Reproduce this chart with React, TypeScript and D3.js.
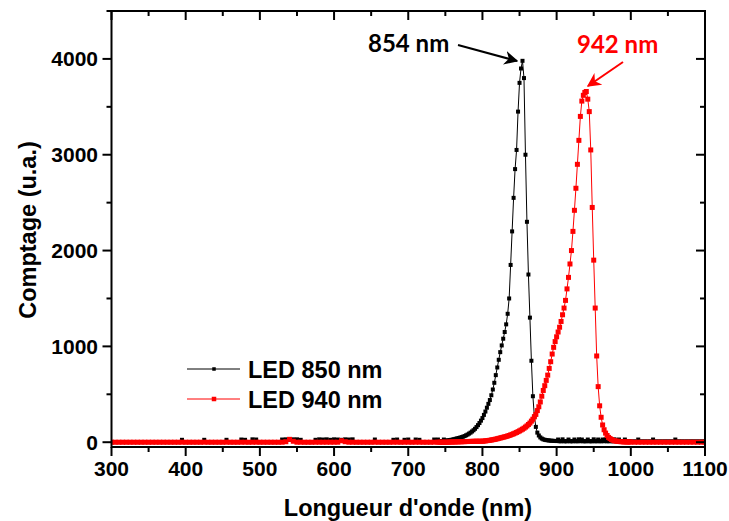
import React from 'react';
import * as d3 from 'd3';

// Sampling grids (nm)
const gridLow = d3.range(300, 740, 5);
const gridPeak = d3.range(740, 1001, 2);
const gridHigh = d3.range(1005, 1101, 5);

// LED 850 nm counts
const led850Low = [
  0,0,0,0,0,0,0,0,0,0,
  0,0,0,0,0,0,0,0,0,25,
  0,0,0,0,0,25,0,0,0,0,
  0,25,0,0,0,28,25,0,30,28,
  0,0,0,0,0,0,28,30,25,30,
  30,25,0,0,0,25,30,28,30,25,
  30,28,25,30,28,30,0,0,0,0,
  0,28,0,0,0,0,25,28,0,25,
  28,0,28,25,0,0,0,28,
];
const led850Peak = [
  28,10,10,12,28,15,18,20,22,25,
  28,32,36,40,44,48,53,58,64,72,
  80,90,100,112,125,140,158,178,200,225,
  252,285,320,360,400,440,490,550,620,700,
  780,860,940,1010,1080,1150,1230,1340,1500,1850,
  2200,2550,2850,3050,3450,3750,3900,3980,3800,3000,
  2300,1750,1300,850,480,270,160,100,70,50,
  38,30,25,22,20,18,16,15,14,13,
  12,28,10,10,30,10,10,10,28,10,
  10,10,28,10,10,30,10,28,10,10,
  10,28,10,10,10,30,10,10,28,10,
  10,28,10,30,10,10,28,10,10,30,
  10,10,28,10,10,10,28,10,10,10,
  10,
];
const led850High = [10,28,10,10,10,28,10,10,10,10,10,28,10,10,10,10,10,10,10,10];

// LED 940 nm counts
const led940Low = [
  0,0,0,0,0,0,0,0,0,0,
  0,0,0,0,0,0,0,0,0,0,
  0,0,0,0,0,0,0,0,0,0,
  0,0,0,0,0,0,0,0,0,0,
  0,0,0,0,0,0,0,5,30,10,
  0,0,0,0,0,0,0,0,0,0,
  0,0,15,5,0,0,0,0,0,0,
  0,0,0,0,0,0,0,0,0,0,
  0,0,0,0,0,0,0,0,
];
const led940Peak = [
  0,0,0,0,0,0,0,0,2,2,
  2,3,3,4,4,5,5,6,6,7,
  7,8,8,9,9,10,10,10,10,10,
  10,12,14,16,18,20,23,26,29,32,
  36,40,44,48,52,56,60,65,70,76,
  82,88,95,102,110,118,127,136,146,158,
  170,185,200,220,240,265,290,330,370,420,
  480,540,590,645,700,770,840,920,990,1050,
  1100,1150,1200,1260,1330,1400,1480,1600,1720,1860,
  2000,2200,2420,2650,2900,3150,3400,3560,3620,3650,
  3660,3580,3450,3050,2450,1900,1400,900,580,380,
  260,180,130,95,70,50,38,28,20,15,
  12,10,8,6,5,4,3,3,2,2,
  2,
];
const led940High = [0,0,0,0,0,0,0,0,0,0,0,0,0,0,0,0,0,0,0,0];

const xMajorTicks = [300, 400, 500, 600, 700, 800, 900, 1000, 1100];
const xMinorTicks = [350, 450, 550, 650, 750, 850, 950, 1050];
const yMajorTicks = [0, 1000, 2000, 3000, 4000];
const yMinorTicks = [500, 1500, 2500, 3500, 4500];

const seriesNames = ['LED 850 nm', 'LED 940 nm'];
const seriesColors = ['#000000', '#ff0000'];
const peakLabels = ['854 nm', '942 nm'];

function zip(grid: number[], vals: number[]): [number, number][] {
  return grid.map((g, i) => [g, vals[i]] as [number, number]);
}

const data850 = [...zip(gridLow, led850Low), ...zip(gridPeak, led850Peak), ...zip(gridHigh, led850High)];
const data940 = [...zip(gridLow, led940Low), ...zip(gridPeak, led940Peak), ...zip(gridHigh, led940High)];

export default function App() {
  const W = 729, H = 521;
  const L = 111.5, R = 705, T = 11, B = 447;
  const x = d3.scaleLinear().domain([300, 1100]).range([L, R]);
  const y = d3.scaleLinear().domain([-50, 4500]).range([B, T]);
  const line = d3.line<[number, number]>().x(d => x(d[0])).y(d => y(d[1]));
  const font = "'Liberation Sans', Arial, sans-serif";
  const annFont = "Lato, 'Open Sans', sans-serif";

  const series = [
    { data: data850, color: seriesColors[0], ms: 4, lms: 3.5 },
    { data: data940, color: seriesColors[1], ms: 5, lms: 4.5 },
  ];

  return (
    <svg width={W} height={H} style={{ position: 'absolute', left: 0, top: 0, background: '#fff' }}>
      <defs>
        <marker id="ahBlack" viewBox="0 0 10 10" refX="9" refY="5" markerWidth="7" markerHeight="7" orient="auto">
          <path d="M0,0 L10,5 L0,10 L3,5 Z" fill="#000" />
        </marker>
        <marker id="ahRed" viewBox="0 0 10 10" refX="9" refY="5" markerWidth="7" markerHeight="7" orient="auto">
          <path d="M0,0 L10,5 L0,10 L3,5 Z" fill="#ff0000" />
        </marker>
        <clipPath id="plotClip">
          <rect x={L} y={T} width={R - L} height={B - T} />
        </clipPath>
      </defs>

      {/* series */}
      <g clipPath="url(#plotClip)">
        {series.map((s, si) => (
          <g key={si}>
            <path d={line(s.data) || ''} fill="none" stroke={s.color} strokeWidth={1} />
            {s.data.map((d, i) => (
              <rect key={i} x={x(d[0]) - s.ms / 2} y={y(d[1]) - s.ms / 2} width={s.ms} height={s.ms} fill={s.color} />
            ))}
          </g>
        ))}
      </g>

      {/* frame */}
      <rect x={L} y={T} width={R - L} height={B - T} fill="none" stroke="#000" strokeWidth={2} />

      {/* ticks */}
      {xMajorTicks.map(t => (
        <g key={'xb' + t}>
          <line x1={x(t)} x2={x(t)} y1={B} y2={B + 9} stroke="#000" strokeWidth={2} />
          <line x1={x(t)} x2={x(t)} y1={T} y2={T + 9} stroke="#000" strokeWidth={2} />
          <text x={x(t)} y={476} textAnchor="middle" fontFamily={font} fontWeight="bold" fontSize={21}>{t}</text>
        </g>
      ))}
      {xMinorTicks.map(t => (
        <g key={'xm' + t}>
          <line x1={x(t)} x2={x(t)} y1={B} y2={B + 5} stroke="#000" strokeWidth={2} />
          <line x1={x(t)} x2={x(t)} y1={T} y2={T + 5} stroke="#000" strokeWidth={2} />
        </g>
      ))}
      {yMajorTicks.map(t => (
        <g key={'yl' + t}>
          <line x1={L} x2={L - 9} y1={y(t)} y2={y(t)} stroke="#000" strokeWidth={2} />
          <line x1={R} x2={R - 9} y1={y(t)} y2={y(t)} stroke="#000" strokeWidth={2} />
          <text x={98} y={y(t) + 7.5} textAnchor="end" fontFamily={font} fontWeight="bold" fontSize={21}>{t}</text>
        </g>
      ))}
      {yMinorTicks.map(t => (
        <g key={'ym' + t}>
          <line x1={L} x2={L - 5} y1={y(t)} y2={y(t)} stroke="#000" strokeWidth={2} />
          <line x1={R} x2={R - 5} y1={y(t)} y2={y(t)} stroke="#000" strokeWidth={2} />
        </g>
      ))}

      {/* axis titles */}
      <text x={408} y={516} textAnchor="middle" fontFamily={font} fontWeight="bold" fontSize={23.5}>Longueur d'onde (nm)</text>
      <text transform="translate(36,230) rotate(-90)" textAnchor="middle" fontFamily={font} fontWeight="bold" fontSize={23.5}>Comptage (u.a.)</text>

      {/* legend */}
      {seriesNames.map((n, i) => (
        <g key={n} transform={`translate(0,${369 + i * 30})`}>
          <line x1={187} x2={240} y1={0} y2={0} stroke={seriesColors[i]} strokeWidth={1} />
          <rect x={214 - series[i].lms / 2} y={-series[i].lms / 2} width={series[i].lms} height={series[i].lms} fill={seriesColors[i]} />
          <text x={248} y={8.5} fontFamily={font} fontWeight="bold" fontSize={23.5} fill="#000">{n}</text>
        </g>
      ))}

      {/* annotations */}
      <text x={368} y={52} fontFamily={annFont} fontWeight="bold" fontSize={24} fill="#000">{peakLabels[0]}</text>
      <line x1={458} y1={45} x2={517} y2={61} stroke="#000" strokeWidth={2} markerEnd="url(#ahBlack)" />
      <text x={577} y={53} fontFamily={annFont} fontWeight="bold" fontSize={24} fill="#ff0000">{peakLabels[1]}</text>
      <line x1={623} y1={62} x2={588} y2={86} stroke="#ff0000" strokeWidth={2} markerEnd="url(#ahRed)" />
    </svg>
  );
}
